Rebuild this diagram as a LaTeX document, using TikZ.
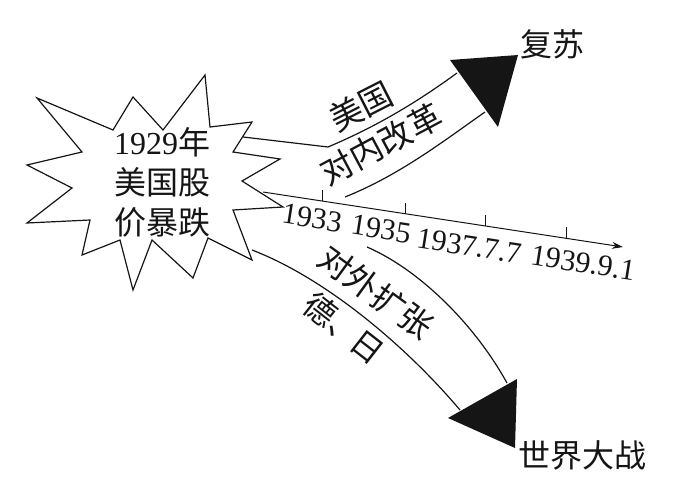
\documentclass[tikz,border=0pt]{standalone}
\usepackage{fontspec}
\setmainfont{Liberation Serif}
\newfontfamily\cjk{Noto Sans CJK SC}
\usepackage{tikz}
\usetikzlibrary{arrows.meta, positioning, calc}
\definecolor{Ink}{HTML}{151515}

\begin{document}
\begin{tikzpicture}[x=1pt, y=-1pt, line width=1.2pt, color=Ink]
                    \useasboundingbox (0,0) rectangle (692,486);
                    \draw[line join=miter] (37,98) -- (113,130) -- (133,97) -- (163,130) -- (205,75) -- (210,127) -- (252,122) -- (233,152) -- (280,159) -- (242,181) -- (283,207) -- (233,210) -- (252,260) -- (208,238) -- (193,278) -- (152,240) -- (133,290) -- (120,240) -- (82,255) -- (90,220) -- (27,223) -- (72,188) -- (27,165) -- (82,152) -- cycle;
                    \node[align=center, font=\fontsize{32}{40}\selectfont] (crash) at (162,182) {1929{\cjk 年}\\{\cjk 美国股}\\{\cjk 价暴跌}};
                    \coordinate (upA) at (457,73);
                    \coordinate (upB) at (485,112);
                    \draw (243,137) -- (328,147) .. controls (380,125) and (420,100) .. (upA);
                    \draw (345,197) .. controls (400,175) and (445,140) .. (upB);
                    \fill (450,60) -- (518,55) -- (498,127) -- cycle;
                    \node[font=\fontsize{33}{33}\selectfont\cjk, rotate=27] (usa) at (361,106) {美国};
                    \node[font=\fontsize{33}{33}\selectfont\cjk, rotate=28] (reform) at (381,144) {对内改革};
                    \node[font=\fontsize{32}{32}\selectfont\cjk] (recover) at (552,44) {复苏};
                    \coordinate (tlStart) at (263,192);
                    \coordinate (tlEnd) at (623,247);
                    \draw[-{Stealth[length=11pt, width=7pt]}, line width=1pt] (tlStart) -- (tlEnd);
                    \foreach \t/\lx/\ly/\yr in {0.164/312/218/1933, 0.397/381/229/1935, 0.619/469/246/1937.7.7, 0.844/583/263/1939.9.1}{
                        \draw[line width=1pt] ($(tlStart)!\t!(tlEnd)$) -- ++(0,-11);
                        \node[font=\fontsize{30}{30}\selectfont, rotate=-9, inner sep=0pt] at (\lx,\ly) {\yr};
                    }
                    \coordinate (dnA) at (460,410);
                    \coordinate (dnB) at (507,383);
                    \draw (252,250) .. controls (325,278) and (405,345) .. (dnA);
                    \draw (367,247) .. controls (420,270) and (475,325) .. (dnB);
                    \fill (448,418) -- (517,379) -- (515,448) -- cycle;
                    \node[font=\fontsize{33}{33}\selectfont\cjk, rotate=-36, inner sep=0pt] (expand) at (376,292) {对外扩张};
                    \node[font=\fontsize{32}{32}\selectfont\cjk, rotate=-38, inner sep=0pt] (axis) at (344,328) {德、\kern-4pt 日};
                    \node[font=\fontsize{32}{32}\selectfont\cjk] (war) at (582,455) {世界大战};
                \end{tikzpicture}
\end{document}
